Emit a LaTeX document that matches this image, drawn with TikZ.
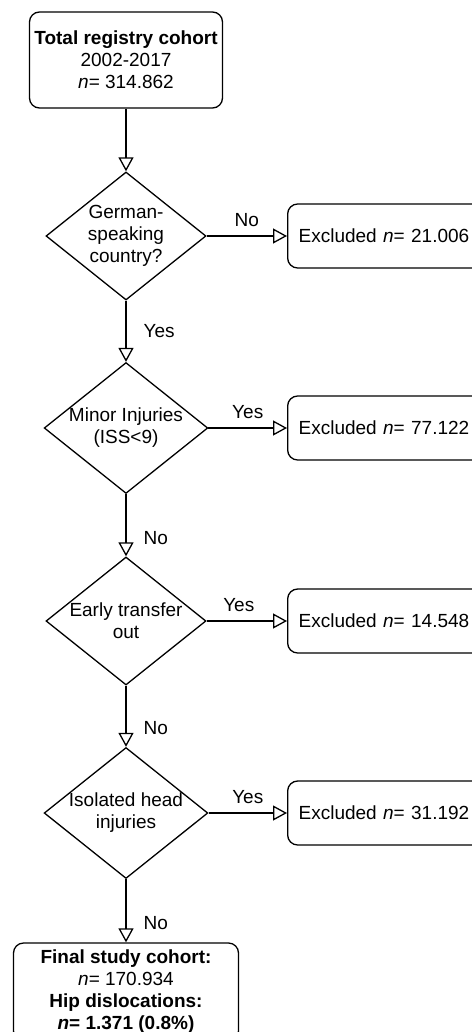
\documentclass[tikz,border=0pt]{standalone}
\usepackage{fontspec}
\setmainfont{Liberation Sans}
\usetikzlibrary{shapes.geometric,arrows.meta}
\begin{document}
\begin{tikzpicture}[x=1pt,y=-1pt]

\tikzstyle{every node}=[font=\fontsize{19}{22}\selectfont]
\tikzstyle{box}=[rectangle,draw,line width=1.3pt,rounded corners=10pt,align=center,inner sep=0pt]
\tikzstyle{exbox}=[box,anchor=west,text width=178pt,inner xsep=11pt,minimum height=64pt,align=left]
\tikzstyle{decision}=[diamond,draw,line width=1.3pt,aspect=1.25,minimum width=160pt,minimum height=128pt,inner sep=0pt,align=center]
\tikzstyle{flow}=[draw,line width=1.3pt,-{Triangle[open,length=14pt,width=15pt]}]
\tikzstyle{lbl}=[inner sep=0pt]

\useasboundingbox (0,0) rectangle (471,1032);

\node[box,minimum width=193pt,minimum height=96pt] (total) at (126,60) {\textbf{Total registry cohort}\\2002-2017\\\textit{n}= 314.862} ;

\node[decision] (german)   at (126,236) {German-\\speaking\\country?} ;
\node[decision] (minor)    at (126,428) {Minor Injuries\\(ISS<9)} ;
\node[decision] (transfer) at (126,621) {Early transfer\\out} ;
\node[decision] (head)     at (126,813) {Isolated head\\injuries} ;

\node[exbox] (ex1) at (287,236) {Excluded \textit{n}= 21.006} ;
\node[exbox] (ex2) at (287,428) {Excluded \textit{n}= 77.122} ;
\node[exbox] (ex3) at (287,621) {Excluded \textit{n}= 14.548} ;
\node[exbox] (ex4) at (287,813) {Excluded \textit{n}= 31.192} ;

\node[box,minimum width=225pt,minimum height=98pt] (final) at (126,992) {\textbf{Final study cohort:}\\\textit{n}= 170.934\\\textbf{Hip dislocations:}\\\textbf{\textit{n}= 1.371 (0.8\%)}} ;

% main flow
\draw[flow] (total) -- (german);
\draw[flow] (german) -- node[lbl,right=17pt,pos=0.5] {Yes} (minor);
\draw[flow] (minor) -- node[lbl,right=17pt,pos=0.7] {No} (transfer);
\draw[flow] (transfer) -- node[lbl,right=17pt,pos=0.7] {No} (head);
\draw[flow] (head) -- node[lbl,right=17pt,pos=0.7] {No} (final);

% exclusions
\draw[flow] (german) -- node[lbl,above=9pt] {No} (ex1);
\draw[flow] (minor) -- node[lbl,above=9pt] {Yes} (ex2);
\draw[flow] (transfer) -- node[lbl,above=9pt,pos=0.4] {Yes} (ex3);
\draw[flow] (head) -- node[lbl,above=9pt] {Yes} (ex4);

\end{tikzpicture}
\end{document}
